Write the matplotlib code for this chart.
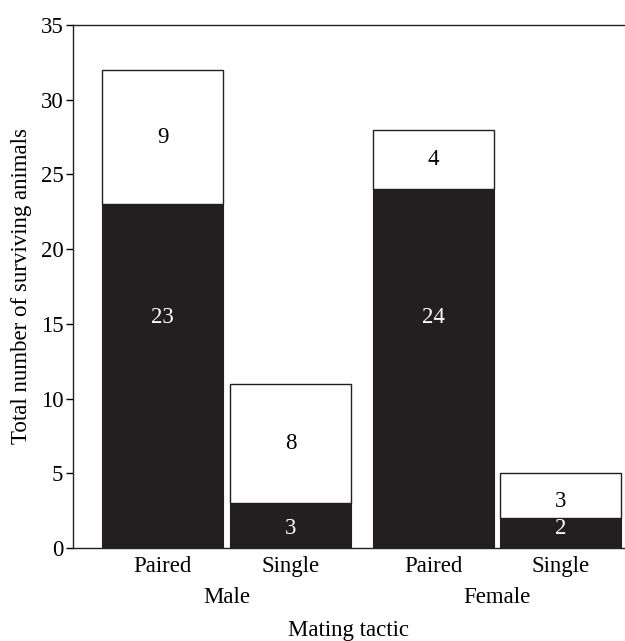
import matplotlib.pyplot as plt

plt.rcParams['font.family'] = ['Liberation Serif', 'DejaVu Serif']

# data
groups = ["Male", "Female"]
tactics = ["Paired", "Single", "Paired", "Single"]
dark_counts = [23, 3, 24, 2]
light_counts = [9, 8, 4, 3]

# bar centres: pairs inside each sex group sit close, groups further apart
centres = [0, 1.06, 2.24, 3.29]
bar_w = 1.0
dark = '#231f20'
fs = 16.5

fig = plt.figure(figsize=(6.25, 6.41), dpi=100)
ax = fig.add_axes([73 / 625, 1 - 548 / 641, 1 - 73 / 625, (548 - 25) / 641])

ax.bar(centres, dark_counts, width=bar_w, color=dark, edgecolor=dark, linewidth=0.8)
ax.bar(centres, light_counts, width=bar_w, bottom=dark_counts, color='white',
       edgecolor=dark, linewidth=1.0)

for x, d, l in zip(centres, dark_counts, light_counts):
    # tall dark bars carry their count on a shared row, short ones near the base
    yd = 15.4 if d > 10 else 1.3
    ax.text(x, yd, str(d), color='white', ha='center', va='center', fontsize=fs)
    yl = d + l / 2 if l > 3 else d + l / 2 - 0.4
    ax.text(x, yl, str(l), color='black', ha='center', va='center', fontsize=fs)

ax.set_xlim(-0.74, 3.82)
ax.set_ylim(0, 35)
ax.set_yticks(range(0, 36, 5))
ax.tick_params(axis='y', direction='out', length=5, width=1, labelsize=fs, pad=2)
ax.set_xticks(centres)
ax.set_xticklabels(tactics, fontsize=fs)
ax.tick_params(axis='x', length=0, pad=6)

ax.spines['right'].set_visible(False)
for s in ['left', 'bottom', 'top']:
    ax.spines[s].set_linewidth(1.0)
    ax.spines[s].set_color('#222222')

# sex group labels under the tactic labels
for i, g in enumerate(groups):
    mid = (centres[2 * i] + centres[2 * i + 1]) / 2
    ax.text(mid, -0.095, g, transform=ax.get_xaxis_transform(), ha='center', va='center',
            fontsize=fs)

ax.text(0.5, -0.157, "Mating tactic", transform=ax.transAxes, ha='center', va='center',
        fontsize=fs)
ax.set_ylabel("Total number of surviving animals", fontsize=fs, labelpad=6)

plt.savefig("out.png", dpi=100)
